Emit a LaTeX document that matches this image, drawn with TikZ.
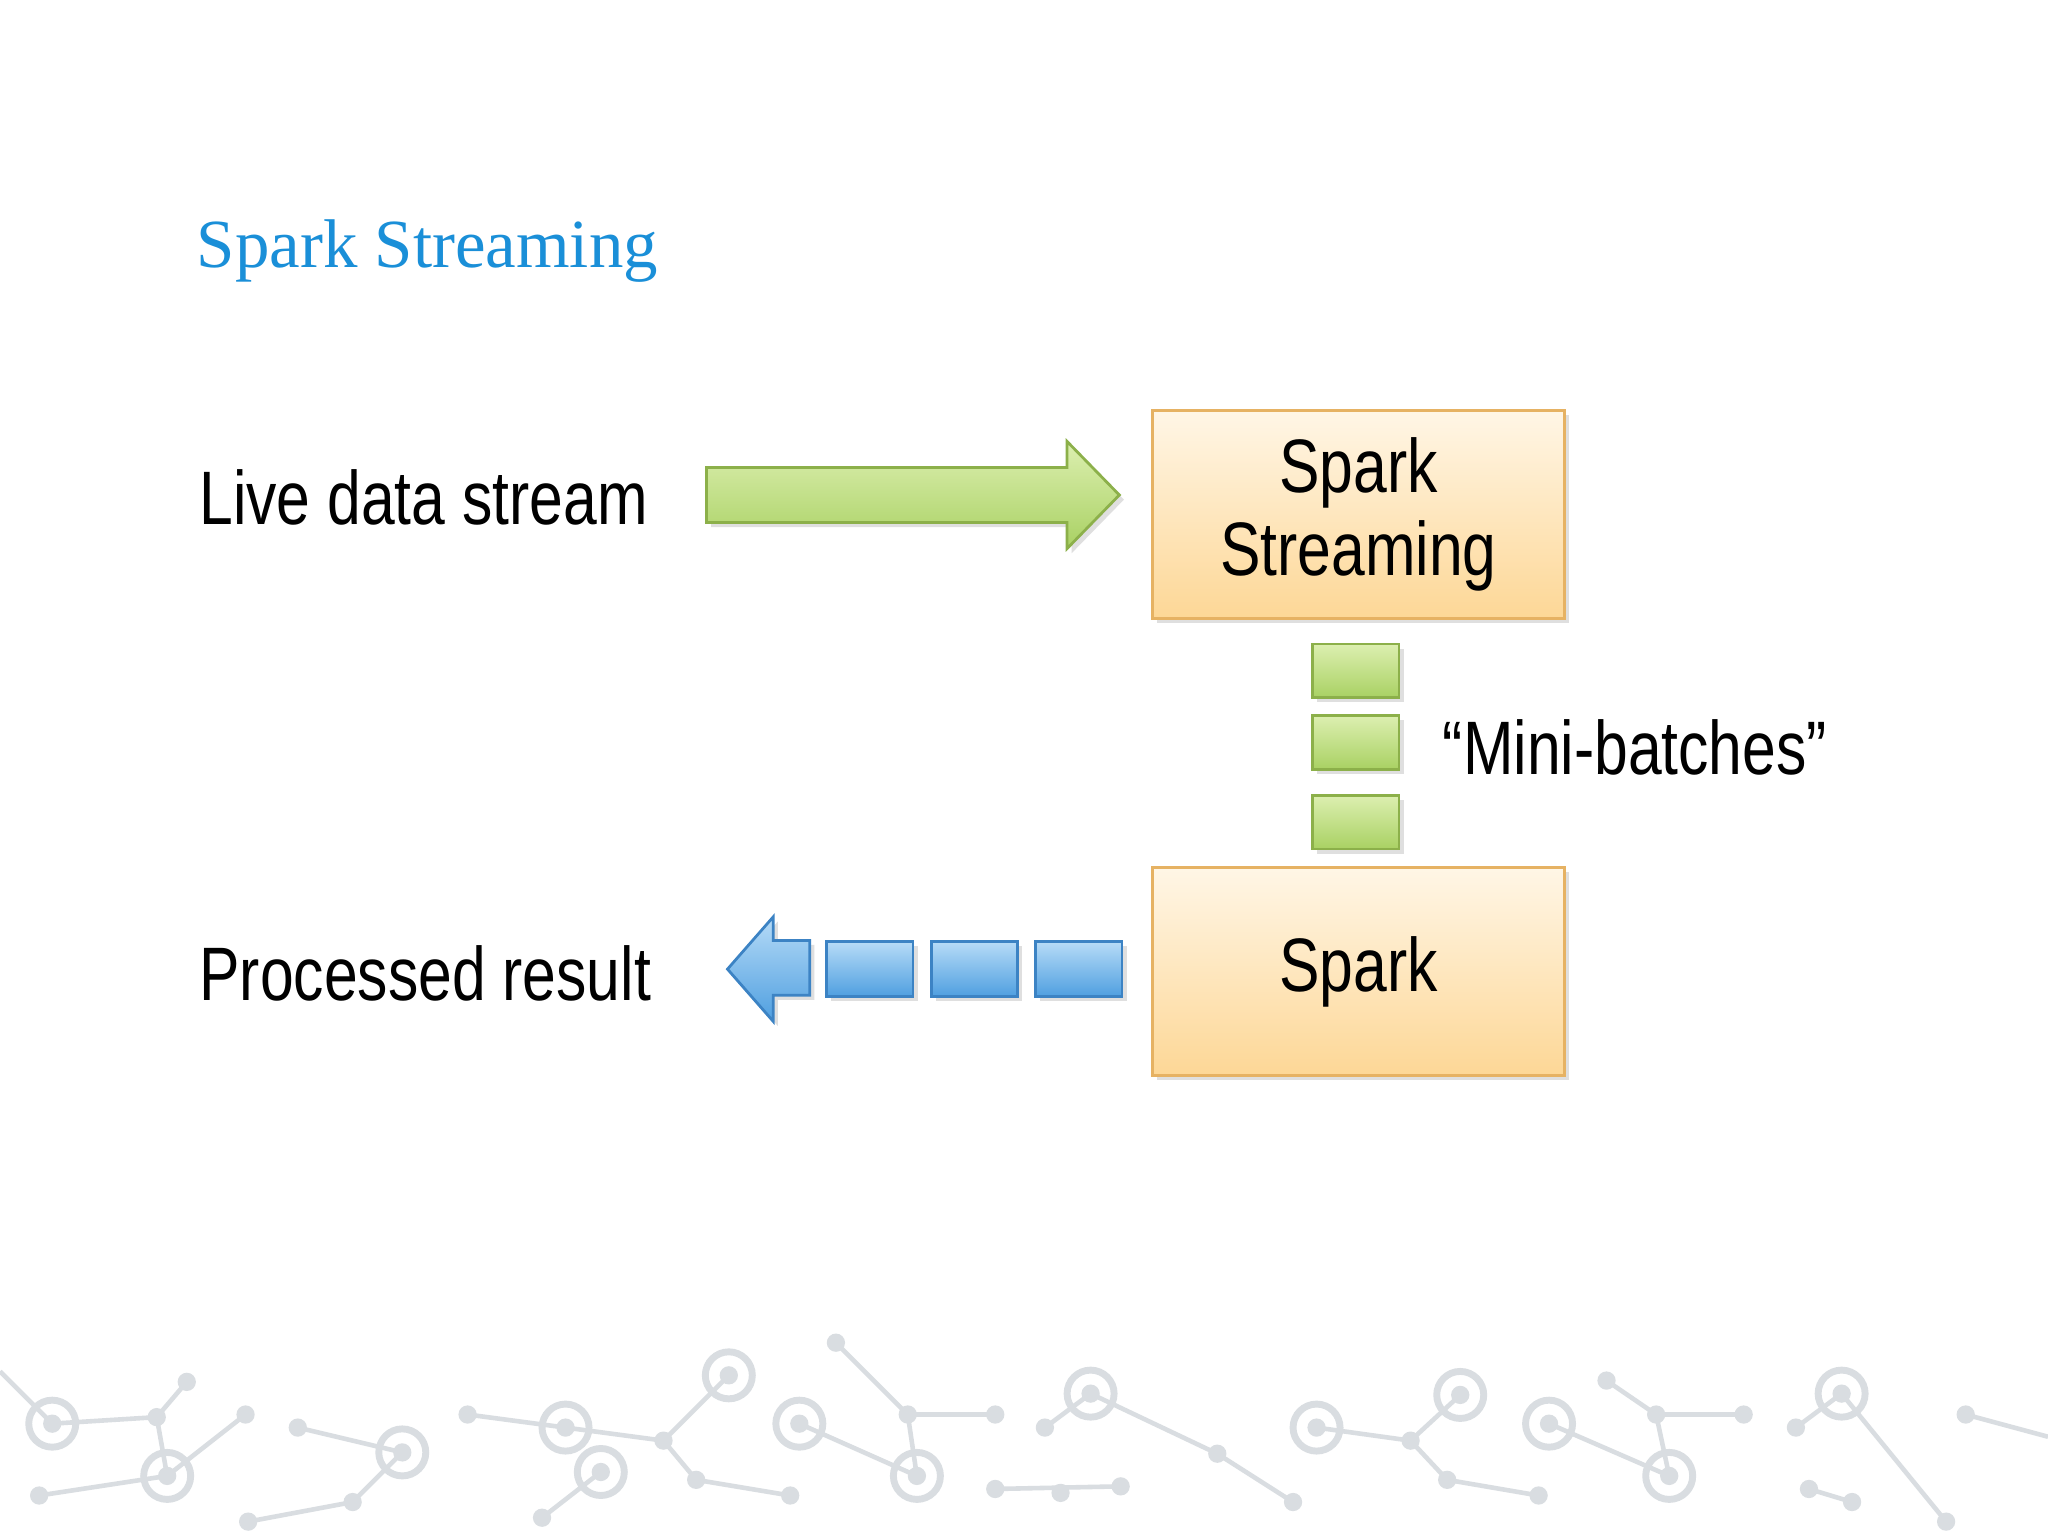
\documentclass[tikz,border=0pt]{standalone}
\usepackage{fontspec}
\setmainfont{Liberation Sans}
\newfontfamily\slab{Liberation Serif}
\usetikzlibrary{shadows}
\definecolor{ttl}{HTML}{1A8FD8}
\definecolor{gA}{HTML}{DCEFB0}\definecolor{gB}{HTML}{A9D163}\definecolor{gE}{HTML}{8CB04A}
\definecolor{oA}{HTML}{FFF6E6}\definecolor{oB}{HTML}{FDD796}\definecolor{oE}{HTML}{E6B263}
\definecolor{bA}{HTML}{B6DBF7}\definecolor{bB}{HTML}{4F9FE0}\definecolor{bE}{HTML}{3C83C4}
\definecolor{net}{HTML}{D9DDE1}
\newcommand{\cond}[1]{\scalebox{0.8}[1]{#1}}
\begin{document}
\begin{tikzpicture}[x=0.01cm,y=-0.01cm,
 lbl/.style={font=\fontsize{16.5}{20}\selectfont,anchor=west,inner sep=0},
 gfill/.style={top color=gA,bottom color=gB,draw=gE,line width=0.6pt,drop shadow={opacity=0.25,shadow xshift=1pt,shadow yshift=-1pt}},
 ofill/.style={top color=oA,bottom color=oB,draw=oE,line width=0.6pt,drop shadow={opacity=0.25,shadow xshift=1pt,shadow yshift=-1pt}},
 bfill/.style={top color=bA,bottom color=bB,draw=bE,line width=0.6pt,drop shadow={opacity=0.25,shadow xshift=1pt,shadow yshift=-1pt}},
 nd/.style={fill=net,draw=none},
 ln/.style={draw=net,line width=1pt}]
\useasboundingbox (0,0) rectangle (1568,1176);
\fill[white] (0,0) rectangle (1568,1176);
% network decoration
\foreach \a/\b in {40/1090,120/1085,143/1058,128/1130,188/1083,228/1093,308/1112,270/1150,358/1083,433/1093,460/1127,415/1162,508/1103,558/1053,533/1133,605/1145,612/1090,640/1028,695/1083,762/1083,702/1130,800/1093,835/1067,762/1140,812/1143,858/1138,932/1113,990/1150,1008/1093,1080/1103,1118/1068,1108/1133,1178/1145,1186/1090,1230/1057,1268/1083,1335/1083,1278/1130,1375/1093,1410/1067,1385/1140,1418/1150,1505/1083,1490/1165,30/1145,190/1165}
  \fill[nd] (\a,\b) circle (7);
\foreach \a/\b in {40/1090,308/1112,433/1093,558/1053,612/1090,835/1067,1008/1093,1118/1068,1186/1090,1410/1067,128/1130,460/1127,702/1130,1278/1130}
  \draw[ln,line width=1.5pt] (\a,\b) circle (18);
\draw[ln] (40,1090)--(120,1085)--(143,1058) (120,1085)--(128,1130)--(188,1083) (128,1130)--(30,1145) (228,1093)--(308,1112)--(270,1150)--(190,1165)
 (358,1083)--(433,1093)--(508,1103)--(558,1053) (460,1127)--(415,1162) (508,1103)--(533,1133)--(605,1145) (640,1028)--(695,1083)--(762,1083)
 (695,1083)--(702,1130)--(612,1090) (800,1093)--(835,1067) (762,1140)--(858,1138) (835,1067)--(932,1113)--(990,1150) (1008,1093)--(1080,1103)--(1118,1068)
 (1080,1103)--(1108,1133)--(1178,1145) (1230,1057)--(1268,1083)--(1335,1083) (1268,1083)--(1278,1130)--(1186,1090) (1375,1093)--(1410,1067) (1385,1140)--(1418,1150)
 (1410,1067)--(1490,1165) (1505,1083)--(1568,1100) (0,1050)--(40,1090);
% title
\node[anchor=west,inner sep=0,text=ttl,font=\slab\fontsize{15}{18}\selectfont] (title) at (150,192) {Spark Streaming};
% labels
\node[lbl] (live) at (152,381) {\cond{Live data stream}};
\node[lbl] (proc) at (152,745) {\cond{Processed result}};
\node[lbl] (mini) at (1104,572) {\cond{“Mini-batches”}};
% boxes
\node[ofill,minimum width=3.15cm,minimum height=1.59cm,inner sep=0,align=center,font=\fontsize{16.5}{18}\selectfont] (ss) at (1040,394) {\cond{Spark}\\\cond{Streaming}};
\node[ofill,minimum width=3.15cm,minimum height=1.59cm,inner sep=0,font=\fontsize{16.5}{20}\selectfont] (sp) at (1040,744) {\cond{Spark}};
% green arrow
\path[gfill] (541,358)--(817,358)--(817,338)--(857,379)--(817,420)--(817,400)--(541,400)--cycle;
% mini batches
\foreach \y/\n in {492/m1,547/m2,608/m3} \node[gfill,minimum width=0.66cm,minimum height=0.41cm,inner sep=0,anchor=north west] (\n) at (1004,\y) {};
% blue rects
\foreach \x/\n in {632/b1,712/b2,792/b3} \node[bfill,minimum width=0.66cm,minimum height=0.42cm,inner sep=0,anchor=north west] (\n) at (\x,720) {};
\path[bfill] (620,720)--(592,720)--(592,702)--(557,742)--(592,782)--(592,762)--(620,762)--cycle;
\end{tikzpicture}
\end{document}
